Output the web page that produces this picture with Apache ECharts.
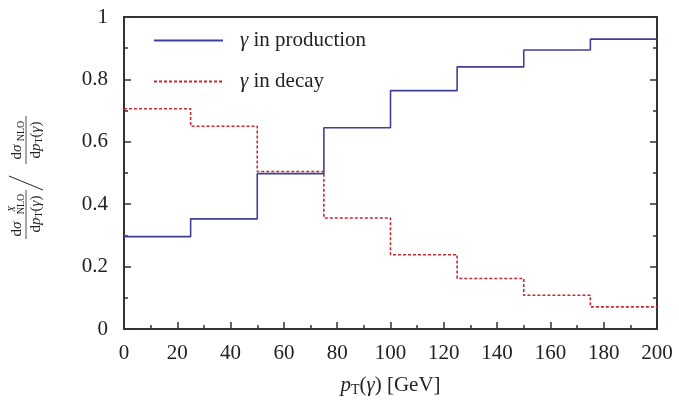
<!DOCTYPE html>
<html>
<head>
<meta charset="utf-8">
<script src="https://cdn.jsdelivr.net/npm/echarts@6/dist/echarts.min.js"></script>
<style>
  html, body { margin: 0; padding: 0; background: #fff; }
  #chart { width: 679px; height: 408px; }
</style>
</head>
<body>
<div id="chart"></div>
<script>
// bin edges in GeV, one value per bin
const binEdges = [0, 25, 50, 75, 100, 125, 150, 175, 200];
const production = [0.296, 0.353, 0.498, 0.645, 0.764, 0.840, 0.894, 0.929];
const decay = [0.706, 0.650, 0.505, 0.356, 0.238, 0.162, 0.108, 0.071];
const xTicks = [0, 20, 40, 60, 80, 100, 120, 140, 160, 180, 200];
const yTicks = [0, 0.2, 0.4, 0.6, 0.8, 1];

const FONT = "Liberation Serif";
const BLUE = "#3f3f98";
const RED = "#c52a33";

// histogram steps: hold each value until next edge
function steps(vals) {
  return binEdges.map((x, i) => [x, vals[Math.min(i, vals.length - 1)]]);
}

const chart = echarts.init(document.getElementById("chart"));

const mathRich = {
  i: { fontFamily: FONT, fontStyle: "italic", fontSize: 15 },
  r: { fontFamily: FONT, fontSize: 15 },
  sub: { fontFamily: FONT, fontSize: 10, padding: [7, 0, 0, 0] }
};
const txt = { fill: "#222", align: "center", verticalAlign: "middle" };

chart.setOption({
  animation: false,
  grid: { left: 124, right: 22, top: 17, bottom: 79 },
  legend: {
    orient: "vertical",
    left: 148,
    top: 25,
    itemWidth: 69,
    itemHeight: 20,
    itemGap: 20,
    itemStyle: { opacity: 0 },
    data: ["production", "decay"],
    formatter: function (n) {
      return "{g|γ}{t| in " + n + "}";
    },
    textStyle: {
      rich: {
        g: { fontFamily: FONT, fontStyle: "italic", fontSize: 21, color: "#222", padding: [0, 0, 0, 12] },
        t: { fontFamily: FONT, fontSize: 21, color: "#222" }
      }
    }
  },
  xAxis: [
    {
      type: "value",
      min: 0,
      max: 200,
      interval: 20,
      axisLine: { show: true, onZero: false, lineStyle: { color: "#333", width: 2 } },
      axisTick: { show: true, inside: true, length: 7, lineStyle: { color: "#333", width: 1.5 } },
      minorTick: { show: true, splitNumber: 2, length: 4, lineStyle: { color: "#333", width: 1.5 } },
      splitLine: { show: false },
      axisLabel: {
        margin: 14,
        fontFamily: FONT,
        fontSize: 21,
        color: "#222",
        customValues: xTicks
      },
      name: "{i|p}{s|T}{r|(}{i|γ}{r|) [GeV]}",
      nameLocation: "middle",
      nameGap: 44,
      nameTextStyle: {
        rich: {
          i: { fontFamily: FONT, fontStyle: "italic", fontSize: 21, color: "#222" },
          r: { fontFamily: FONT, fontSize: 21, color: "#222" },
          s: { fontFamily: FONT, fontSize: 14, color: "#222", padding: [10, 0, 0, 0] }
        }
      }
    },
    {
      type: "value",
      position: "top",
      min: 0,
      max: 200,
      axisLine: { show: true, onZero: false, lineStyle: { color: "#333", width: 2 } },
      axisTick: { show: false },
      axisLabel: { show: false },
      splitLine: { show: false }
    }
  ],
  yAxis: [
    {
      type: "value",
      min: 0,
      max: 1,
      interval: 0.2,
      axisLine: { show: true, onZero: false, lineStyle: { color: "#333", width: 2 } },
      axisTick: { show: true, inside: true, length: 7, lineStyle: { color: "#333", width: 1.5 } },
      minorTick: { show: true, splitNumber: 2, length: 4, lineStyle: { color: "#333", width: 1.5 } },
      splitLine: { show: false },
      axisLabel: {
        margin: 16,
        fontFamily: FONT,
        fontSize: 21,
        color: "#222",
        customValues: yTicks
      }
    },
    {
      type: "value",
      position: "right",
      min: 0,
      max: 1,
      interval: 0.2,
      axisLine: { show: true, onZero: false, lineStyle: { color: "#333", width: 2 } },
      axisTick: { show: true, inside: true, length: 7, lineStyle: { color: "#333", width: 1.5 } },
      minorTick: { show: true, splitNumber: 2, length: 4, lineStyle: { color: "#333", width: 1.5 } },
      axisLabel: { show: false },
      splitLine: { show: false }
    }
  ],
  series: [
    {
      name: "production",
      type: "line",
      step: "end",
      symbol: "none",
      data: steps(production),
      color: BLUE,
      lineStyle: { color: BLUE, width: 1.6 }
    },
    {
      name: "decay",
      type: "line",
      step: "end",
      symbol: "none",
      data: steps(decay),
      color: RED,
      lineStyle: { color: RED, width: 1.6, type: [3, 2] }
    }
  ],
  graphic: [
    {
      type: "group",
      x: 26,
      y: 176,
      rotation: Math.PI / 2,
      children: [
        // first fraction
        { type: "text", x: -53, y: -9, style: Object.assign({ text: "{r|d}{i|σ}", rich: mathRich }, txt) },
        { type: "text", x: -33, y: -14, style: Object.assign({ text: "X", font: "italic 10px " + FONT }, txt) },
        { type: "text", x: -28, y: -5, style: Object.assign({ text: "NLO", font: "10px " + FONT }, txt) },
        { type: "line", shape: { x1: -63, y1: 0, x2: -14, y2: 0 }, style: { stroke: "#222", lineWidth: 0.8 } },
        { type: "text", x: -38, y: 10, style: Object.assign({ text: "{r|d}{i|p}{sub|T}{r|(}{i|γ}{r|)}", rich: mathRich }, txt) },
        // big slash
        { type: "line", shape: { x1: -14, y1: 17, x2: 0, y2: -17 }, style: { stroke: "#222", lineWidth: 1 } },
        // second fraction
        { type: "text", x: 24, y: -9, style: Object.assign({ text: "{r|d}{i|σ}", rich: mathRich }, txt) },
        { type: "text", x: 45, y: -5, style: Object.assign({ text: "NLO", font: "10px " + FONT }, txt) },
        { type: "line", shape: { x1: 12, y1: 0, x2: 60, y2: 0 }, style: { stroke: "#222", lineWidth: 0.8 } },
        { type: "text", x: 36, y: 10, style: Object.assign({ text: "{r|d}{i|p}{sub|T}{r|(}{i|γ}{r|)}", rich: mathRich }, txt) }
      ]
    }
  ]
});
</script>
</body>
</html>
